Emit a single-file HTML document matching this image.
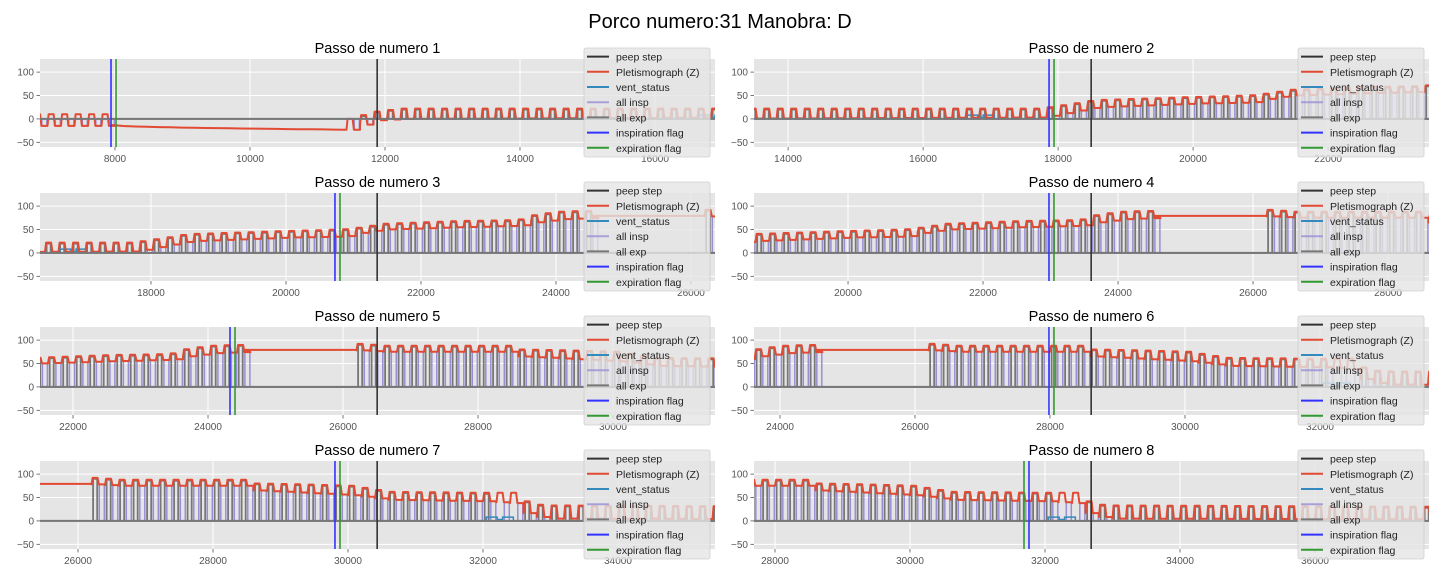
<!DOCTYPE html>
<html><head><meta charset="utf-8"><style>
html,body{margin:0;padding:0;background:#fff;}
svg{display:block;font-family:"Liberation Sans","DejaVu Sans",sans-serif;}
</style></head><body>
<svg id="fig" width="1440" height="576" viewBox="0 0 1440 576" xmlns="http://www.w3.org/2000/svg">
<text x="720" y="28" text-anchor="middle" font-size="20" fill="#000">Porco numero:31 Manobra: D</text>
<defs id="defs"></defs>
</svg>
<script>
// ---- data ----
const peeps=[11884,18490,21351,23602,26506,28610,30432,32684];
const inspFlags=[7941,17866,20726,22977,24326,27985,29807,31763];
const expFlags=[8015,17940,20800,23051,24400,28059,29881,31689];
const knotT=[6800,7950,11430,11800,12200,17700,18300,18500,20000,20800,21100,21400,22500,23400,23600,24000,24550,26200,26600,28500,28600,29300,30000,30400,30600,32000,32400,32550,32700,33000,37800];
const knotH=[10,10,0,15,22,22,35,40,47,50,55,62,68,70,80,88,90,92,88,88,80,78,75,66,62,60,60,45,35,33,30];
const knotL=[-15,-15,-23,-3,0,3,20,25,33,35,45,50,55,58,65,72,75,78,75,75,65,60,55,48,45,42,38,20,10,5,3];
const flatStart=[7950,24550];
const flatEnd=[11430,26200];
const flatV0=[-13,79];
const flatV1=[-23,79];
const ventStart=[16650,32050];
const ventEnd=[17050,32450];
const ventLevel=[8,8];
const noPulseStart=[6800,32050];
const noPulseEnd=[7950,32500];
const breathPeriod=200;
const yTicks=[100,50,0,-50];
const legendLabels=["peep step","Pletismograph (Z)","vent_status","all insp","all exp","inspiration flag","expiration flag"];
const legendColors=["#333333","#E24A33","#348ABD","#988ED5","#777777","#3333ff","#339933"];

// ---- layout ----
const NS="http://www.w3.org/2000/svg";
const svg=document.getElementById('fig');
const defs=document.getElementById('defs');
const colX=[40,754], axW=675, axH=88, rowTop=[59,193,327,461];
const yMin=-60,yMax=128;
function mk(tag,attrs,parent){const e=document.createElementNS(NS,tag);for(const k in attrs)e.setAttribute(k,attrs[k]);(parent||svg).appendChild(e);return e;}
function interp(t,arr){if(t<=knotT[0])return arr[0];for(let i=1;i<knotT.length;i++){if(t<=knotT[i]){const f=(t-knotT[i-1])/(knotT[i]-knotT[i-1]);return arr[i-1]+f*(arr[i]-arr[i-1]);}}return arr[arr.length-1];}
function inFlat(t){for(let i=0;i<flatStart.length;i++)if(t>=flatStart[i]&&t<flatEnd[i])return i;return -1;}
function inNoPulse(t){for(let i=0;i<noPulseStart.length;i++)if(t>=noPulseStart[i]&&t<noPulseEnd[i])return true;return false;}

const redPts=[],grayPts=[],purplePts=[];
(function(){
  let t=knotT[0];
  const P=breathPeriod;
  while(t<knotT[knotT.length-1]){
    const f=inFlat(t);
    if(f>=0){
      const n=20;
      for(let k=0;k<=n;k++){const tt=flatStart[f]+(flatEnd[f]-flatStart[f])*k/n;const fr=k/n;const v=flatV0[f]+(flatV1[f]-flatV0[f])*(f===0?Math.sqrt(fr):fr);redPts.push([tt,v]);}
      t=flatEnd[f];continue;
    }
    const H=interp(t,knotH),L=interp(t,knotL);
    redPts.push([t,L],[t+P*0.08,H],[t+P*0.45,H],[t+P*0.55,L],[t+P,L]);
    if(!inNoPulse(t)&&H>2){
      grayPts.push([t+P*0.12,0],[t+P*0.12,H-2],[t+P*0.42,H-2],[t+P*0.42,0]);
    }
    purplePts.push([t+P*0.58,0],[t+P*0.58,L],[t+P*0.95,L],[t+P*0.95,0]);
    t+=P;
  }
})();

for(let s=0;s<8;s++){
  const col=s%2,row=Math.floor(s/2);
  const X0=colX[col],Y0=rowTop[row];
  const xmin=peeps[s]-4995,xmax=xmin+10000;
  const xs=v=>X0+(v-xmin)/(xmax-xmin)*axW;
  const ys=v=>Y0+(yMax-v)/(yMax-yMin)*axH;
  const g=mk('g',{});
  
  
  const cp=mk('clipPath',{id:'cp'+s},defs);mk('rect',{x:X0,y:Y0,width:axW,height:axH},cp);
  const bg=mk('rect',{x:X0,y:Y0,width:axW,height:axH,fill:'#E5E5E5'},g);
  
  
  const tt=mk('text',{x:X0+axW/2,y:Y0-6,'text-anchor':'middle','font-size':'14.5',fill:'#000'},g);
  tt.textContent='Passo de numero '+(s+1);
  
  
  yTicks.forEach(v=>{
    const y=ys(v);
    mk('line',{x1:X0,x2:X0+axW,y1:y,y2:y,stroke:'#fff','stroke-width':1},g);
    mk('line',{x1:X0-3.5,x2:X0,y1:y,y2:y,stroke:'#555','stroke-width':0.8},g);
    const lb=mk('text',{x:X0-6,y:y+3.5,'text-anchor':'end','font-size':'10',fill:'#555'},g);
    lb.textContent=v<0?'\u2212'+Math.abs(v):String(v);
    
    
  });
  for(let v=Math.ceil(xmin/2000)*2000;v<=xmax;v+=2000){
    const x=xs(v);
    mk('line',{x1:x,x2:x,y1:Y0,y2:Y0+axH,stroke:'#fff','stroke-width':1},g);
    mk('line',{x1:x,x2:x,y1:Y0+axH,y2:Y0+axH+3.5,stroke:'#555','stroke-width':0.8},g);
    const lb=mk('text',{x:x,y:Y0+axH+15,'text-anchor':'middle','font-size':'10',fill:'#555'},g);
    lb.textContent=String(v);
    
    
  }
  const cg=mk('g',{'clip-path':'url(#cp'+s+')'},g);
  const pathOf=pts=>{let d='';pts.forEach(p=>{if(p[0]<xmin-400||p[0]>xmax+400)return;d+=(d?'L':'M')+xs(p[0]).toFixed(1)+','+ys(p[1]).toFixed(1);});return d||'M0,0';};
  const pp=mk('path',{d:pathOf(purplePts),fill:'none',stroke:'#988ED5','stroke-width':1.5},cg);
  
  
  const gp=mk('path',{d:pathOf(grayPts),fill:'none',stroke:'#777','stroke-width':1.8},cg);
  
  
  let vd='M'+xs(xmin-100)+','+ys(0);
  for(let i=0;i<ventStart.length;i++){
    const a=ventStart[i],b=ventEnd[i],m=(a+b)/2,lv=ventLevel[i];
    vd+='L'+xs(a)+','+ys(0)+'L'+xs(a)+','+ys(lv)+'L'+xs(m-40)+','+ys(lv)+'L'+xs(m-40)+','+ys(lv-5)+'L'+xs(m+40)+','+ys(lv-5)+'L'+xs(m+40)+','+ys(lv)+'L'+xs(b)+','+ys(lv)+'L'+xs(b)+','+ys(0);
  }
  vd+='L'+xs(xmax+100)+','+ys(0);
  const vp=mk('path',{d:vd,fill:'none',stroke:'#348ABD','stroke-width':1.5},cg);
  
  
  const rp=mk('path',{d:pathOf(redPts),fill:'none',stroke:'#E24A33','stroke-width':2,'stroke-linejoin':'round'},cg);
  
  
  const zl=mk('line',{x1:X0,x2:X0+axW,y1:ys(0),y2:ys(0),stroke:'#777','stroke-width':2},cg);
  
  
  const vl=(v,c,name)=>{const l=mk('line',{x1:xs(v),x2:xs(v),y1:Y0,y2:Y0+axH,stroke:c,'stroke-width':1.6},cg);};
  vl(peeps[s],'#333333','peep-step-line');
  vl(inspFlags[s],'#3333ff','inspiration-flag-line');
  vl(expFlags[s],'#339933','expiration-flag-line');
  const LX=X0+544,LY=Y0-11;
  const lg=mk('g',{},g);
  
  
  mk('rect',{x:LX,y:LY,width:126,height:109,rx:2,fill:'#E5E5E5','fill-opacity':0.8,stroke:'#d0d0d0','stroke-width':0.8},lg);
  legendLabels.forEach((lab,i)=>{
    const y=LY+8.6+i*15.2;
    const e=mk('g',{},lg);
    
    
    mk('line',{x1:LX+3,x2:LX+25,y1:y,y2:y,stroke:legendColors[i],'stroke-width':2,'stroke-opacity':(i===3?0.8:1)},e);
    const t=mk('text',{x:LX+32,y:y+4,'font-size':'10.5',fill:'#222'},e);
    t.textContent=lab;
  });
}
</script>
</body></html>
